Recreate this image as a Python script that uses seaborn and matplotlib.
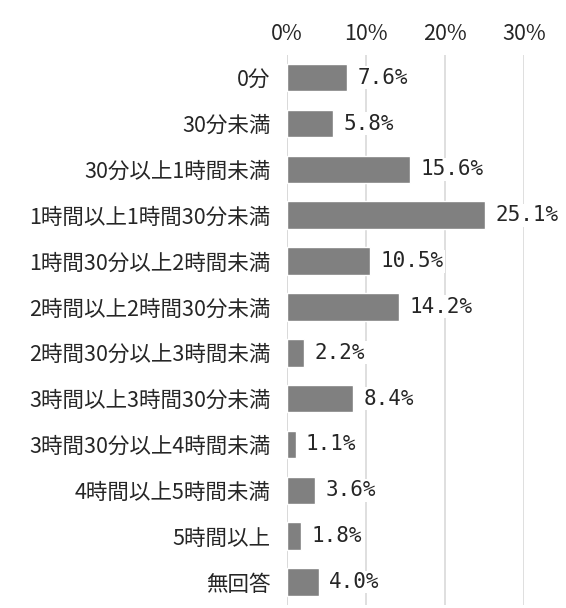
import pandas as pd
import numpy as np
import seaborn as sns
import matplotlib.pyplot as plt

# Chart data
categories = ['0分', '30分未満', '30分以上1時間未満', '1時間以上1時間30分未満',
              '1時間30分以上2時間未満', '2時間以上2時間30分未満', '2時間30分以上3時間未満',
              '3時間以上3時間30分未満', '3時間30分以上4時間未満', '4時間以上5時間未満',
              '5時間以上', '無回答']
values = [7.6, 5.8, 15.6, 25.1, 10.5, 14.2, 2.2, 8.4, 1.1, 3.6, 1.8, 4.0]
x_ticks = [0, 10, 20, 30]
x_tick_labels = ['0%', '10%', '20%', '30%']

df = pd.DataFrame({'category': categories, 'value': values})

sns.set_style('white')
plt.rcParams['font.family'] = ['Noto Sans CJK JP', 'DejaVu Sans']

fig = plt.figure(figsize=(5.66, 6.08), dpi=100)
ax = fig.add_axes([0.507, 0.005, 0.419, 0.905])

sns.barplot(data=df, x='value', y='category', orient='h', color='#808080',
            width=0.6, saturation=1, ax=ax)

ax.set_xlim(0, 30)
ax.set_ylim(11.5, -0.5)
ax.set_xticks(x_ticks)
ax.set_xticklabels(x_tick_labels, fontsize=15.5)
ax.xaxis.tick_top()
ax.tick_params(axis='both', length=0)
ax.tick_params(axis='x', pad=7)
ax.tick_params(axis='y', pad=12, labelsize=15.5)
ax.set_xlabel('')
ax.set_ylabel('')
ax.grid(axis='x', color='#d9d9d9', linewidth=1.2)
ax.set_axisbelow(True)
for s in ax.spines.values():
    s.set_visible(False)
ax.axvline(0, color='#d9d9d9', linewidth=1.2, zorder=0)

# Value labels
for i, v in enumerate(values):
    ax.text(v + 1.3, i, f'{v:.1f}%', va='center', ha='left', fontsize=15,
            family=['DejaVu Sans Mono'], clip_on=False,
            bbox=dict(facecolor='white', edgecolor='none', pad=1))

fig.savefig('out.png', dpi=100)
